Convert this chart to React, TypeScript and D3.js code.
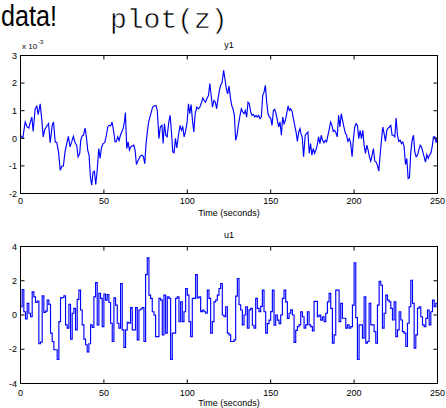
import React from 'react';
import * as d3 from 'd3';

// ---------- data ----------
const xTicks = [0, 50, 100, 150, 200, 250];
const y1Ticks = [-2, -1, 0, 1, 2, 3];
const u1Ticks = [-4, -2, 0, 2, 4];
const xLabel = 'Time (seconds)';
const titles = ['y1', 'u1'];

// y1 in units of 1e-3
const y1Time = [
  0, 1.4, 2.8, 4, 5, 6, 6.8, 7.6, 8.8, 9.8, 10.6, 11.8, 12.8, 13.6, 14.4, 15.4, 16.8, 17.8, 19, 19.8,
  20.8, 21.8, 22.8, 23.8, 24.8, 25.7, 26.7, 27.7, 28.7, 29.7, 30.7, 31.7, 32.7, 33.7, 34.5, 35.5, 36.1, 36.9, 37.7, 38.7,
  39.5, 40.3, 41.1, 41.9, 42.7, 43.5, 44.3, 45.1, 45.9, 46.9, 47.7, 48.5, 49.5, 50.5, 51.5, 52.3, 53.1, 54.1, 54.9, 55.9,
  56.7, 57.5, 58.3, 59.1, 59.9, 60.7, 61.5, 62.3, 62.9, 63.7, 64.5, 65.3, 66.1, 66.9, 67.9, 68.7, 69.5, 70.3, 71.1, 71.9,
  72.9, 73.7, 74.5, 75.2, 75.9, 76.8, 77.6, 78.4, 79.2, 80.2, 81.2, 82, 83, 83.8, 84.8,
  85.5, 86.3, 87.1, 87.9, 88.9, 89.7, 90.5, 91.3, 92.1, 92.9, 93.7, 94.7, 95.7, 96.5, 97.3, 98.1, 98.9, 99.9,
  100.7, 101.5, 102.3, 103.1, 103.9, 104.7, 105.7, 106.5, 107.3, 108.3, 109.3, 110.1, 110.9, 111.9, 112.7, 113.5,
  114.3, 115.1, 116, 116.8, 117.6, 118.4, 119.2, 120, 120.8, 121.8, 122.6, 123.4, 124.2, 125, 125.8, 126.6, 127.4,
  128.2, 129, 129.8, 130.6, 131.6, 132.4, 133.2, 134, 134.8, 135.6, 136.4, 137.2, 138, 138.8, 139.6, 140.4, 141.2,
  142, 142.8, 143.6, 144.4, 145.2, 146, 146.8, 147.6, 148.4, 149.2, 150, 150.8, 151.6, 152.4, 153.2, 154, 154.8,
  155.6, 156.4, 157.2, 158, 158.8, 159.6, 160.4, 161.2, 162, 162.8, 163.6, 164.4, 165.2, 166, 166.8, 167.6,
  168.1, 168.9, 169.7, 170.7, 171.5, 172.3, 173.1, 173.9, 174.7, 175.5, 176.3, 177.1, 177.9, 178.7, 179.5, 180.3,
  181.1, 181.9, 182.7, 183.5, 184.3, 185.1, 185.9, 186.7, 187.5, 188.3, 189.1, 189.9, 190.7, 191.5, 192.3, 193.1,
  193.9, 194.7, 195.5, 196.3, 197.1, 197.9, 198.8, 199.6, 200.4, 201.2, 202, 202.8, 203.6, 204.4, 205.2, 206,
  206.8, 207.6, 208.4, 209.2, 210, 210.8, 211.6, 212.4, 213.2, 214, 214.8, 215.6, 216.4, 217.2, 218, 218.8,
  219.6, 220.4, 221.2, 222, 222.8, 223.6, 224.4, 225.2, 226, 226.8, 227.6, 228.4, 229.2, 230, 230.8, 231.6,
  232.4, 233.2, 234, 234.8, 235.6, 236.4, 237.2, 238, 238.8, 239.6, 240.4, 241.2, 242, 242.8, 243.6, 244.4,
  245.2, 246, 246.8, 247.6, 248.4, 249.2, 250,
];
const y1Value = [
  0.11, 0.01, 0.59, 0.41, 0.37, 0.61, 0.77, 0.25, 1.07, 1.16, 0.86, 1.25, 0.65, 0.05, 0.29, 0.41, 0.53, -0.16, 0.47, 0.59,
  -0.13, -0.16, -0.49, -1.16, -1.01, -1.0, -0.49, -0.19, 0.07, -0.31, -0.13, 0.07, -0.16, -0.25, -0.67, -0.55, -0.07, 0.08, 0.11, 0.37,
  0.05, -0.43, -0.61, -1.4, -1.7, -1.22, -1.19, -1.67, -1.22, -0.37, -0.73, -0.35, -0.19, -0.16, 0.11, 0.41, 0.47, 0.45, 0.59, 0.23,
  -0.13, -0.11, 0.05, -0.08, 0.11, 0.23, 0.35, 0.59, 0.93, -0.37, -0.13, -0.43, -0.31, -0.28, -0.25, -0.43, -0.95, -0.83, -0.73, -0.64,
  -0.61, -0.67, -0.92, -0.25, 0.17, 0.59, 0.77, 0.95, 1.13, 1.17, 1.19, 1.01, -0.01, 0.41, 0.47,
  -0.19, 0.53, 0.11, 0.05, 0.59, 0.83, 0.23, -0.49, -0.52, 0, -0.35, 0.11, 0.47, 0.29, 0.41, 0.05, 0.23, 0.59,
  1.25, 0.89, 1.22, 0.65, 0.23, 0.89, 1.13, 1.07, 1.1, 1.25, 1.46, 1.37, 1.31, 1.46, 1.55, 1.98,
  1.55, 1.13, 1.37, 1.31, 1.07, 1.43, 1.73, 1.92, 2.01, 2.46, 2.13, 1.8, 1.61, 1.89, 1.49, 1.19, 1.07,
  0.83, -0.07, 0.11, 0.47, 0.83, 1.07, 0.95, 0.89, 1.01, 0.77, 1.31, 1.25, 0.95, 0.83, 0.86, 0.77, 0.83,
  0.77, 0.83, 0.71, 0.77, 1.55, 1.67, 1.92, 1.31, 0.89, 0.77, 0.73, 0.47, 1.01, 1.05, 0.89, 0.65, 0.41,
  0.59, 0.11, 0.77, 0.53, 0.65, 0.89, 1.17, 1.01, 1.07, 0.98, 0.71, 0.47, 0.23, -0.11, 0.23, 0.35,
  0.17, 0.05, -0.67, 0.11, 0.17, 0.23, -0.55, -0.19, -0.61, -0.37, -0.55, -0.43, -0.25, 0.05, -0.19, 0.11,
  -0.07, -0.16, -0.07, -0.13, 0.11, 0.33, 0.59, 0.47, 0.25, 0.29, 0.2, 0.05, 0.83, 0.41, 0.89, 0.65,
  0.41, 0.2, 0.11, -0.11, -0.01, -0.16, -0.67, -0.01, 0.41, 0.53, 0.47, -0.01, 0.29, -0.01, 0.29, -0.25,
  -0.55, -0.25, -0.43, -0.67, -0.83, -0.61, -0.37, -0.83, -0.86, -0.98, -1.19, -0.61, -0.07, 0.41, 0.17, -0.11,
  0.29, 0.37, 0.41, 0.47, 0.11, 0.11, 0.05, 0.73, 0.11, -0.11, -0.07, -0.19, -0.13, -0.31, -0.95, -0.73,
  -1.46, -1.43, -0.49, -0.07, 0.11, -0.49, -0.67, -0.61, -0.43, -0.25, -0.31, -0.49, -0.67, -0.86, -0.59, -0.73,
  -0.61, -0.55, -0.31, 0.05, 0.05, -0.16, 0.05,
];

// u1 sampled every second, held between samples
const u1Value = [
  0.48, 1.49, 0.19, -0.23, 0.68, 0.1, -0.1, 1.35, 1.06, 0.73,
  0.81, -1.68, -1.58, 1.12, 0.15, 0.23, 0.87, 0.62, -1.06, -1.55,
  -2.03, -2.03, -2.6, -0.39, 1.0, 1.02, 1.12, -0.58, -0.77, 0.62,
  -1.41, 0.1, 0.39, -0.87, 0.91, 1.45, 0.29, -0.58, -1.41, -1.74,
  -2.16, -1.68, -0.58, -0.73, 1.06, 1.89, -0.58, 1.26, 0.97, -0.68,
  1.22, 0.87, 1.2, 0.73, -0.48, -1.55, 1.0, 0.58, -0.48, -0.77,
  1.84, -0.87, -1.89, -0.87, -0.43, -0.48, 0.43, -0.87, -0.87, 0.43,
  -1.45, 0.29, 0.35, 0.44, -1.55, 2.36, 3.34, 1.16, 0.97, 0.19,
  0, -1.26, -1.26, 0.97, 0.87, -1.16, 1.16, -1.06, 1.06, 0.97,
  -2.6, -1.06, -1.06, 0.97, 1.06, -0.39, 0.77, -0.39, 0.19, 1.55,
  1.16, -0.39, -1.26, 0.97, 0.97, 2.36, 1.0, 1.06, 0.2, 0.29,
  0.19, 0.1, 1.45, 0.97, -1.06, -0.39, 0.77, 0.87, 1.16, 1.55,
  1.84, 0.0, -0.1, 0.48, -1.06, -1.16, -1.55, -1.55, -1.45, 1.1,
  2.13, 0.6, 0.29, -0.58, 0.0, 0.48, -0.77, 0.3, 0.39, -0.6,
  -0.77, 0.97, 0.39, 0.2, 0.5, 1.45, 0.19, -1.06, -0.5, -0.3,
  0.2, 1.45, -0.6, 0.0, -0.3, -0.5, 0.0, 0.97, 1.45, 0.77,
  -0.2, 0.1, 0.3, 0.0, -1.6, -0.9, -0.68, -0.58, 0.19, -0.1,
  -0.77, -0.58, 0.19, -0.58, -0.68, -0.93, 0.8, 0.8, -0.1, 0.0,
  -0.3, -0.1, -0.39, 0.1, 0.77, 1.26, 0.39, -1.64, -1.16, 1.45,
  1.45, -0.39, 0.68, -0.19, -0.19, -0.77, -0.58, -0.77, -0.68, 0.58,
  3.05, -0.15, -2.6, -0.58, -0.58, -1.35, 1.06, -1.64, -1.55, 0.68,
  -0.58, -0.58, -0.97, -1.64, 0.58, 1.97, 1.74, -0.77, 0.1, 1.16,
  0.87, 0.77, 0.39, -0.29, 0.77, -1.26, -0.87, 0.19, -0.29, -0.97,
  -1.06, -1.84, -0.48, 0.48, 2.03, 0.68, -1.93, -1.16, 0.39, 0.48,
  -0.1, -0.58, -0.68, -0.2, 0.29, -0.58, 0.19, 0.87, 0.48, 0.68,
  0.68,
];

// ---------- layout ----------
const W = 446;
const H = 408;
const L = 20.5;
const R = 437.5;
const SANS = '"Liberation Sans", Arial, Helvetica, sans-serif';
const MONO = '"Liberation Mono", "Courier New", Courier, monospace';
const BLUE = '#0000ff';

const x = d3.scaleLinear().domain([0, 250]).range([L, R]);

type PanelProps = {
  top: number;
  bottom: number;
  domain: [number, number];
  ticks: number[];
  title: string;
  titleY: number;
  xLabelY: number;
  xTickY: number;
  pathD: (y: d3.ScaleLinear<number, number>) => string;
  exponent?: boolean;
};

function Panel({ top, bottom, domain, ticks, title, titleY, xLabelY, xTickY, pathD, exponent }: PanelProps) {
  const y = d3.scaleLinear().domain(domain).range([bottom, top]);
  const tl = 4;
  const cx = (L + R) / 2;
  return (
    <g>
      <defs>
        <clipPath id={`clip-${title}`}>
          <rect x={L} y={top} width={R - L} height={bottom - top} />
        </clipPath>
      </defs>
      <path d={pathD(y)} fill="none" stroke={BLUE} strokeWidth={1.15} clipPath={`url(#clip-${title})`} />
      <rect x={L} y={top} width={R - L} height={bottom - top} fill="none" stroke="#000" strokeWidth={1} />
      {xTicks.map((t) => (
        <g key={'x' + t}>
          <line x1={x(t)} x2={x(t)} y1={bottom} y2={bottom - tl} stroke="#000" strokeWidth={1} />
          <line x1={x(t)} x2={x(t)} y1={top} y2={top + tl} stroke="#000" strokeWidth={1} />
          <text x={x(t)} y={xTickY} textAnchor="middle" fontFamily={SANS} fontSize={9} fill="#000">
            {t}
          </text>
        </g>
      ))}
      {ticks.map((v) => (
        <g key={'y' + v}>
          <line x1={L} x2={L + tl} y1={y(v)} y2={y(v)} stroke="#000" strokeWidth={1} />
          <line x1={R} x2={R - tl} y1={y(v)} y2={y(v)} stroke="#000" strokeWidth={1} />
          <text x={17} y={y(v) + 3.2} textAnchor="end" fontFamily={SANS} fontSize={9} fill="#000">
            {v < 0 ? '-' + Math.abs(v) : String(v)}
          </text>
        </g>
      ))}
      <text x={cx} y={titleY} textAnchor="middle" fontFamily={SANS} fontSize={9} fill="#000">
        {title}
      </text>
      <text x={cx} y={xLabelY} textAnchor="middle" fontFamily={SANS} fontSize={9} fill="#000">
        {xLabel}
      </text>
      {exponent && (
        <g fontFamily={SANS} fill="#000">
          <text x={22} y={48.5} fontSize={8}>
            x 10
          </text>
          <text x={38} y={44} fontSize={6}>
            -3
          </text>
        </g>
      )}
    </g>
  );
}

export default function App() {
  const y1Path = (y: d3.ScaleLinear<number, number>) =>
    d3
      .line<number>()
      .x((_, i) => x(y1Time[i]))
      .y((d) => y(d))(y1Value) || '';
  const u1Path = (y: d3.ScaleLinear<number, number>) =>
    d3
      .line<number>()
      .curve(d3.curveStepAfter)
      .x((_, i) => x(i))
      .y((d) => y(d))(u1Value) || '';

  return (
    <svg
      width={W}
      height={H}
      viewBox={`0 0 ${W} ${H}`}
      style={{ position: 'absolute', left: 0, top: 0, background: '#fff' }}
    >
      <rect x={0} y={0} width={W} height={H} fill="#fff" />
      <text x={1} y={26} fontFamily={SANS} fontSize={29} textLength={56} lengthAdjust="spacingAndGlyphs" fill="#000">
        data!
      </text>
      <text x={110} y={28} fontFamily={MONO} fontSize={28} fill="#000" stroke="#fff" strokeWidth={0.55}>
        plot(z)
      </text>
      <Panel
        top={55.5}
        bottom={193.5}
        domain={[-2, 3]}
        ticks={y1Ticks}
        title={titles[0]}
        titleY={47.5}
        xTickY={203.5}
        xLabelY={215.5}
        pathD={y1Path}
        exponent
      />
      <Panel
        top={246.5}
        bottom={383.5}
        domain={[-4, 4]}
        ticks={u1Ticks}
        title={titles[1]}
        titleY={238}
        xTickY={396}
        xLabelY={406}
        pathD={u1Path}
      />
    </svg>
  );
}
